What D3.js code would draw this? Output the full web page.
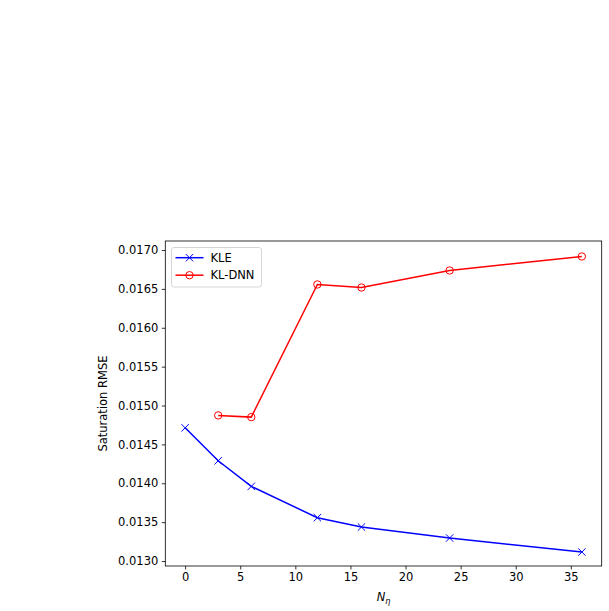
<!DOCTYPE html>
<html><head><meta charset="utf-8">
<script src="https://cdn.jsdelivr.net/npm/d3@7"></script>
<style>body{margin:0;background:#fff;} text{font-family:"DejaVu Sans",sans-serif;}</style>
</head><body>
<svg id="c" width="609" height="611"></svg>
<script>
const xKLE = [0, 3, 6, 12, 16, 24, 36];
const yKLE = [0.014713, 0.014289, 0.013960, 0.013557, 0.013437, 0.013296, 0.013116];
const xDNN = [3, 6, 12, 16, 24, 36];
const yDNN = [0.014873, 0.014851, 0.016557, 0.016518, 0.016737, 0.016917];
const xTicks = [0, 5, 10, 15, 20, 25, 30, 35];
const yTicks = [0.0130, 0.0135, 0.0140, 0.0145, 0.0150, 0.0155, 0.0160, 0.0165, 0.0170];
const seriesNames = ["KLE", "KL-DNN"];

const svg = d3.select("#c");
const L = 165.3, R = 601.7, T = 241, B = 566;
const x = d3.scaleLinear().domain([-1.8, 37.8]).range([L, R]);
const y = d3.scaleLinear().domain([0.012936, 0.017116]).range([B, T]);

const fs = 11.5;
// axes
const xa = svg.append("g").attr("transform", `translate(0,${B})`)
  .call(d3.axisBottom(x).tickValues(xTicks).tickSize(3.5).tickPadding(3.5).tickFormat(d3.format("d")));
const ya = svg.append("g").attr("transform", `translate(${L},0)`)
  .call(d3.axisLeft(y).tickValues(yTicks).tickSize(3.5).tickPadding(3.5).tickFormat(d3.format(".4f")));
[xa, ya].forEach(a => {
  a.select(".domain").remove();
  a.selectAll("line").attr("stroke", "#000").attr("stroke-width", 0.8);
  a.selectAll("text").attr("font-size", fs).attr("fill", "#000").attr("font-family", "DejaVu Sans");
});
svg.append("rect").attr("x", L).attr("y", T).attr("width", R - L).attr("height", B - T)
  .attr("fill", "none").attr("stroke", "#000").attr("stroke-width", 0.8);

const line = d3.line().x(d => x(d[0])).y(d => y(d[1]));
const kle = xKLE.map((v, i) => [v, yKLE[i]]);
const dnn = xDNN.map((v, i) => [v, yDNN[i]]);

svg.append("path").datum(kle).attr("d", line).attr("fill", "none").attr("stroke", "blue").attr("stroke-width", 1.5);
svg.append("path").datum(dnn).attr("d", line).attr("fill", "none").attr("stroke", "red").attr("stroke-width", 1.5);

const ms = 3.7;
function cross(g, cx, cy, col) {
  g.append("path").attr("d", `M${cx-ms},${cy-ms}L${cx+ms},${cy+ms}M${cx-ms},${cy+ms}L${cx+ms},${cy-ms}`)
    .attr("stroke", col).attr("stroke-width", 1).attr("fill", "none");
}
function circ(g, cx, cy, col) {
  g.append("circle").attr("cx", cx).attr("cy", cy).attr("r", ms).attr("stroke", col).attr("stroke-width", 1).attr("fill", "none");
}
const mk = svg.append("g");
kle.forEach(d => cross(mk, x(d[0]), y(d[1]), "blue"));
dnn.forEach(d => circ(mk, x(d[0]), y(d[1]), "red"));

// labels
svg.append("text").attr("transform", `translate(107,${(T + B) / 2}) rotate(-90)`).attr("text-anchor", "middle")
  .attr("font-size", fs).text("Saturation RMSE");
const xl = svg.append("text").attr("x", (L + R) / 2).attr("y", 601).attr("text-anchor", "middle").attr("font-size", fs);
xl.append("tspan").attr("font-style", "italic").text("N");
xl.append("tspan").attr("font-style", "italic").attr("font-size", fs * 0.7).attr("dy", 3).text("η");

// legend
const lg = svg.append("g");
lg.append("rect").attr("x", 171.5).attr("y", 247.5).attr("width", 90).attr("height", 39.5).attr("rx", 2.5)
  .attr("fill", "#fff").attr("fill-opacity", 0.8).attr("stroke", "#ccc").attr("stroke-width", 0.8);
const cols = ["blue", "red"];
seriesNames.forEach((n, i) => {
  const yy = 257.7 + i * 17.5;
  lg.append("line").attr("x1", 175.5).attr("x2", 203.5).attr("y1", yy).attr("y2", yy).attr("stroke", cols[i]).attr("stroke-width", 1.5);
  if (i === 0) cross(lg, 189.5, yy, cols[i]); else circ(lg, 189.5, yy, cols[i]);
  lg.append("text").attr("x", 210.5).attr("y", yy).attr("dy", "0.36em").attr("font-size", fs).text(n);
});
</script>
</body></html>
